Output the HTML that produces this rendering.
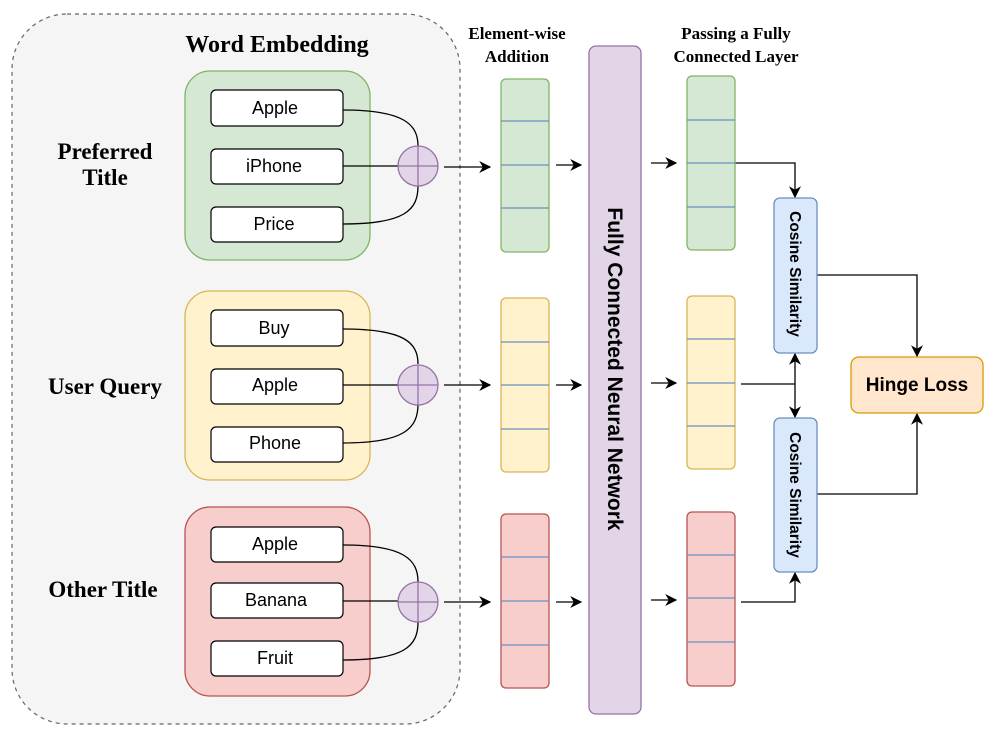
<!DOCTYPE html>
<html><head><meta charset="utf-8"><style>
html,body{margin:0;padding:0;background:#fff;}
svg{display:block;}
.serif{font-family:"Liberation Serif",serif;font-weight:bold;fill:#000;}
.sans{font-family:"Liberation Sans",sans-serif;fill:#000;}
</style></head><body>
<svg width="997" height="735" viewBox="0 0 997 735" xmlns="http://www.w3.org/2000/svg">
<defs>
<marker id="ar" viewBox="0 0 10 10" refX="9" refY="5" markerWidth="12" markerHeight="12" orient="auto-start-reverse" markerUnits="userSpaceOnUse">
<path d="M0,0 L10,5 L0,10 L3,5 Z" fill="#000"/>
</marker>
</defs>
<rect x="12" y="14" width="448" height="710" rx="55" fill="#f5f5f5" stroke="#666" stroke-width="1.2" stroke-dasharray="4,4"/>
<text class="serif" x="277" y="52" font-size="24" text-anchor="middle">Word Embedding</text>
<text class="serif" x="105" y="159" font-size="23" text-anchor="middle">Preferred</text>
<text class="serif" x="105" y="185" font-size="23" text-anchor="middle">Title</text>
<text class="serif" x="105" y="394" font-size="23" text-anchor="middle">User Query</text>
<text class="serif" x="103" y="597" font-size="23" text-anchor="middle">Other Title</text>

<g>
<rect x="185" y="71" width="185" height="189" rx="25" fill="#d5e8d4" stroke="#82b366" stroke-width="1.3"/>
<rect x="185" y="291" width="185" height="189" rx="25" fill="#fff2cc" stroke="#d6b656" stroke-width="1.3"/>
<rect x="185" y="507" width="185" height="189" rx="25" fill="#f8cecc" stroke="#b85450" stroke-width="1.3"/>
</g>
<g fill="#fff" stroke="#000" stroke-width="1.2">
<rect x="211" y="90" width="132" height="36" rx="5"/>
<rect x="211" y="149" width="132" height="35" rx="5"/>
<rect x="211" y="207" width="132" height="35" rx="5"/>
<rect x="211" y="310" width="132" height="36" rx="5"/>
<rect x="211" y="369" width="132" height="35" rx="5"/>
<rect x="211" y="427" width="132" height="35" rx="5"/>
<rect x="211" y="527" width="132" height="35" rx="5"/>
<rect x="211" y="583" width="132" height="35" rx="5"/>
<rect x="211" y="641" width="132" height="35" rx="5"/>
</g>
<g class="sans" font-size="18" text-anchor="middle">
<text x="275" y="114">Apple</text>
<text x="274" y="172">iPhone</text>
<text x="274" y="230">Price</text>
<text x="274" y="334">Buy</text>
<text x="275" y="391">Apple</text>
<text x="275" y="449">Phone</text>
<text x="275" y="550">Apple</text>
<text x="276" y="606">Banana</text>
<text x="275" y="664">Fruit</text>
</g>
<g fill="none" stroke="#000" stroke-width="1.3">
<path d="M343,110 C405,110 418,125 418,146 M343,166 L398,166 M418,186 C418,210 405,224 343,224"/>
<path d="M343,329 C405,329 418,343 418,364 M343,385 L398,385 M418,404 C418,428 405,443 343,443"/>
<path d="M343,545 C405,545 418,560 418,582 M343,601 L398,601 M418,622 C418,646 405,660 343,660"/>
</g>
<g fill="#e1d5e7" stroke="#9673a6" stroke-width="1.3">
<circle cx="418" cy="166" r="20"/><path d="M398,166 H438 M418,146 V186"/>
<circle cx="418" cy="385" r="20"/><path d="M398,385 H438 M418,365 V405"/>
<circle cx="418" cy="602" r="20"/><path d="M398,602 H438 M418,582 V622"/>
</g>
<g stroke="#000" stroke-width="1.3" fill="none" marker-end="url(#ar)">
<path d="M444,167 H490"/><path d="M444,385 H490"/><path d="M444,602 H490"/>
<path d="M556,165 H581"/><path d="M556,385 H581"/><path d="M556,602 H581"/>
<path d="M651,163 H676"/><path d="M651,383 H676"/><path d="M651,600 H676"/>
<path d="M735,163 H795 V197"/>
<path d="M741,602 H795 V573"/>
<path d="M817,275 H917 V356"/>
<path d="M817,494 H917 V414"/>
</g>
<g stroke="#000" stroke-width="1.3" fill="none">
<path d="M741,384 H795"/>
<path d="M795,384 V354" marker-end="url(#ar)"/>
<path d="M795,384 V417" marker-end="url(#ar)"/>
</g>
<text class="serif" x="517" y="39" font-size="17" text-anchor="middle">Element-wise</text>
<text class="serif" x="517" y="62" font-size="17" text-anchor="middle">Addition</text>
<text class="serif" x="736" y="39" font-size="17" text-anchor="middle">Passing a Fully</text>
<text class="serif" x="736" y="62" font-size="17" text-anchor="middle">Connected Layer</text>
<g stroke-width="1.3">
<rect x="501" y="79" width="48" height="173" rx="5" fill="#d5e8d4" stroke="#82b366"/>
<rect x="501" y="298" width="48" height="174" rx="5" fill="#fff2cc" stroke="#d6b656"/>
<rect x="501" y="514" width="48" height="174" rx="5" fill="#f8cecc" stroke="#b85450"/>
<rect x="687" y="76" width="48" height="174" rx="5" fill="#d5e8d4" stroke="#82b366"/>
<rect x="687" y="296" width="48" height="173" rx="5" fill="#fff2cc" stroke="#d6b656"/>
<rect x="687" y="512" width="48" height="174" rx="5" fill="#f8cecc" stroke="#b85450"/>
</g>
<g stroke="#6c8ebf" stroke-width="1.3">
<path d="M501,121H549M501,165H549M501,208H549"/>
<path d="M501,342H549M501,385H549M501,429H549"/>
<path d="M501,557H549M501,601H549M501,645H549"/>
<path d="M687,120H735M687,163H735M687,207H735"/>
<path d="M687,339H735M687,383H735M687,426H735"/>
<path d="M687,555H735M687,598H735M687,642H735"/>
</g>
<rect x="589" y="46" width="52" height="668" rx="7" fill="#e1d5e7" stroke="#9673a6" stroke-width="1.3"/>
<text class="sans" font-size="21" font-weight="bold" text-anchor="middle" transform="translate(608,369) rotate(90)">Fully Connected Neural Network</text>
<rect x="774" y="198" width="43" height="155" rx="6" fill="#dae8fc" stroke="#6c8ebf" stroke-width="1.3"/>
<rect x="774" y="418" width="43" height="154" rx="6" fill="#dae8fc" stroke="#6c8ebf" stroke-width="1.3"/>
<text class="sans" font-size="15.5" font-weight="bold" text-anchor="middle" transform="translate(790,274) rotate(90)">Cosine Similarity</text>
<text class="sans" font-size="15.5" font-weight="bold" text-anchor="middle" transform="translate(790,495) rotate(90)">Cosine Similarity</text>
<rect x="851" y="357" width="132" height="56" rx="8" fill="#ffe6cc" stroke="#d79b00" stroke-width="1.3"/>
<text class="sans" x="917" y="391" font-size="19" font-weight="bold" text-anchor="middle">Hinge Loss</text>
</svg>
</body></html>
